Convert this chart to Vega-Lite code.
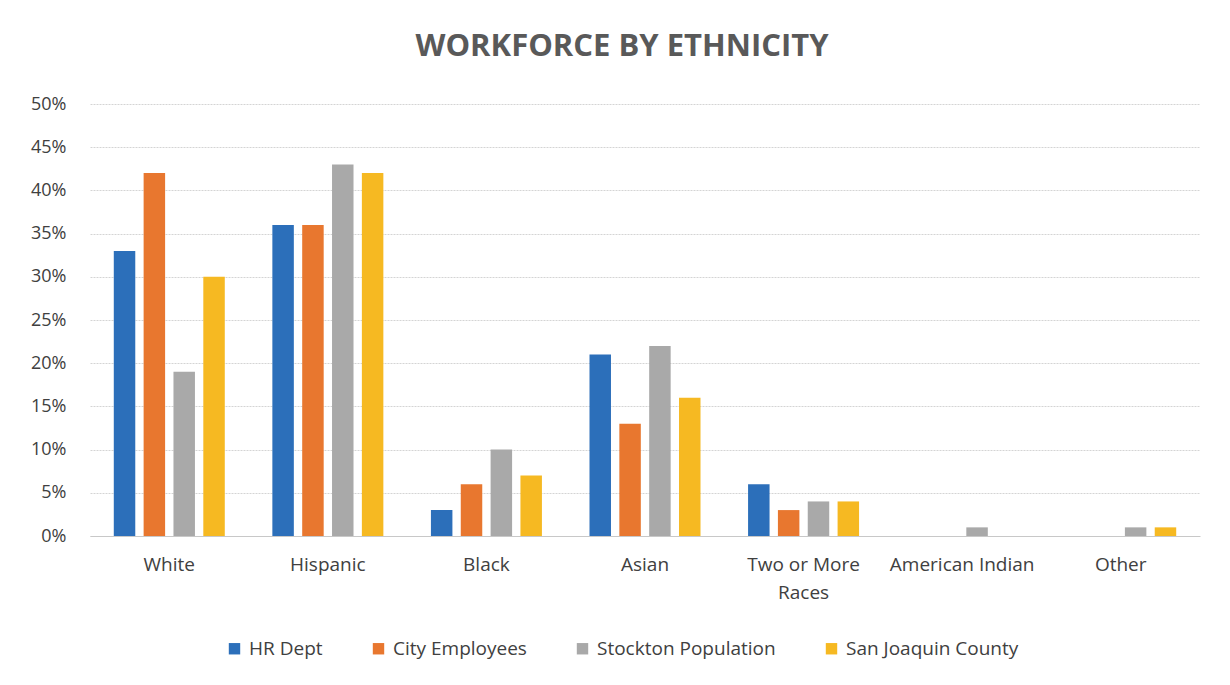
{
  "$schema": "https://vega.github.io/schema/vega-lite/v6.json",
  "autosize": {"type": "none"},
  "width": 1110,
  "height": 432,
  "padding": {"left": 90, "top": 104, "right": 30, "bottom": 149},
  "background": "white",
  "title": {
    "text": "WORKFORCE BY ETHNICITY",
    "anchor": "middle",
    "fontSize": 31,
    "font": "Open Sans",
    "fontWeight": "bold",
    "color": "#595959",
    "offset": 32,
    "dx": -23
  },
  "config": {
    "view": {"stroke": null},
    "font": "Open Sans"
  },
  "data": {
    "values": [
      {"ethnicity": "White", "series": "HR Dept", "value": 0.33},
      {"ethnicity": "White", "series": "City Employees", "value": 0.42},
      {"ethnicity": "White", "series": "Stockton Population", "value": 0.19},
      {"ethnicity": "White", "series": "San Joaquin County", "value": 0.30},
      {"ethnicity": "Hispanic", "series": "HR Dept", "value": 0.36},
      {"ethnicity": "Hispanic", "series": "City Employees", "value": 0.36},
      {"ethnicity": "Hispanic", "series": "Stockton Population", "value": 0.43},
      {"ethnicity": "Hispanic", "series": "San Joaquin County", "value": 0.42},
      {"ethnicity": "Black", "series": "HR Dept", "value": 0.03},
      {"ethnicity": "Black", "series": "City Employees", "value": 0.06},
      {"ethnicity": "Black", "series": "Stockton Population", "value": 0.10},
      {"ethnicity": "Black", "series": "San Joaquin County", "value": 0.07},
      {"ethnicity": "Asian", "series": "HR Dept", "value": 0.21},
      {"ethnicity": "Asian", "series": "City Employees", "value": 0.13},
      {"ethnicity": "Asian", "series": "Stockton Population", "value": 0.22},
      {"ethnicity": "Asian", "series": "San Joaquin County", "value": 0.16},
      {"ethnicity": "Two or More Races", "series": "HR Dept", "value": 0.06},
      {"ethnicity": "Two or More Races", "series": "City Employees", "value": 0.03},
      {"ethnicity": "Two or More Races", "series": "Stockton Population", "value": 0.04},
      {"ethnicity": "Two or More Races", "series": "San Joaquin County", "value": 0.04},
      {"ethnicity": "American Indian", "series": "HR Dept", "value": 0},
      {"ethnicity": "American Indian", "series": "City Employees", "value": 0},
      {"ethnicity": "American Indian", "series": "Stockton Population", "value": 0.01},
      {"ethnicity": "American Indian", "series": "San Joaquin County", "value": 0},
      {"ethnicity": "Other", "series": "HR Dept", "value": 0},
      {"ethnicity": "Other", "series": "City Employees", "value": 0},
      {"ethnicity": "Other", "series": "Stockton Population", "value": 0.01},
      {"ethnicity": "Other", "series": "San Joaquin County", "value": 0.01}
    ]
  },
  "mark": {"type": "bar"},
  "encoding": {
    "x": {
      "field": "ethnicity",
      "type": "nominal",
      "sort": ["White", "Hispanic", "Black", "Asian", "Two or More Races", "American Indian", "Other"],
      "scale": {"paddingInner": 0.3, "paddingOuter": 0.15},
      "axis": {
        "title": null,
        "labelAngle": 0,
        "labelFontSize": 19,
        "labelColor": "#404040",
        "labelPadding": 19,
        "ticks": false,
        "domainColor": "#c8c8c8",
        "labelLimit": 300,
        "labelExpr": "datum.label == 'Two or More Races' ? ['Two or More', 'Races'] : datum.label",
        "labelLineHeight": 28
      }
    },
    "xOffset": {
      "field": "series",
      "type": "nominal",
      "sort": ["HR Dept", "City Employees", "Stockton Population", "San Joaquin County"],
      "scale": {"paddingInner": 0.28}
    },
    "y": {
      "field": "value",
      "type": "quantitative",
      "scale": {"domain": [0, 0.5]},
      "axis": {
        "title": null,
        "format": ".0%",
        "values": [0, 0.05, 0.1, 0.15, 0.2, 0.25, 0.3, 0.35, 0.4, 0.45, 0.5],
        "labelFontSize": 18,
        "labelColor": "#404040",
        "labelPadding": 24,
        "ticks": false,
        "domain": false,
        "gridColor": "#d4d4d4",
        "gridDash": [2, 1]
      }
    },
    "color": {
      "field": "series",
      "type": "nominal",
      "sort": ["HR Dept", "City Employees", "Stockton Population", "San Joaquin County"],
      "scale": {
        "domain": ["HR Dept", "City Employees", "Stockton Population", "San Joaquin County"],
        "range": ["#2c6fba", "#e8772f", "#a9a9a9", "#f6b922"]
      },
      "legend": {
        "title": null,
        "orient": "none",
        "direction": "horizontal",
        "legendX": 135,
        "legendY": 535,
        "symbolType": "square",
        "symbolSize": 130,
        "symbolStrokeWidth": 0,
        "labelFontSize": 19,
        "labelColor": "#404040",
        "labelLimit": 300,
        "columnPadding": 46,
        "labelOffset": 5
      }
    }
  }
}
